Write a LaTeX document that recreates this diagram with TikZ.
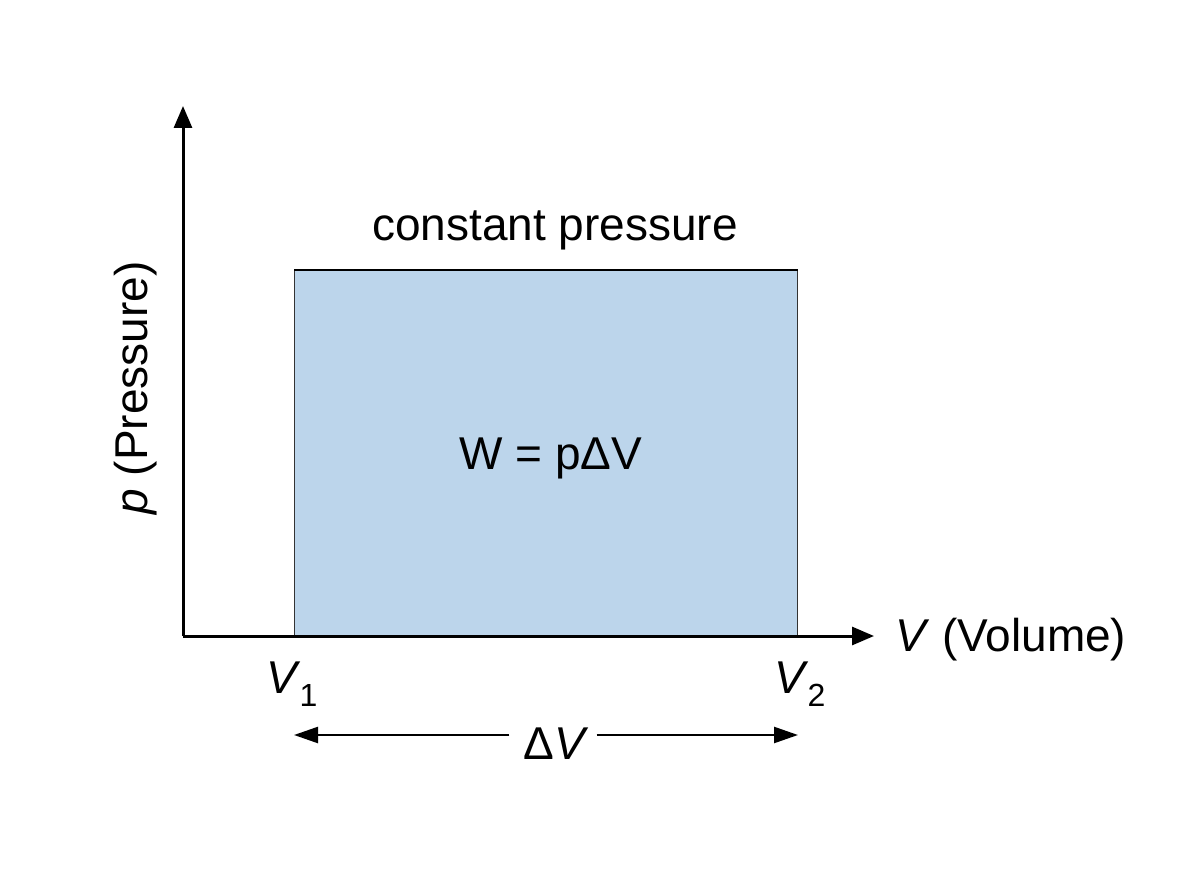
\documentclass[tikz,border=0pt]{standalone}
\usepackage{fontspec}
\setmainfont{Liberation Sans}
\usetikzlibrary{arrows.meta}
\begin{document}
\begin{tikzpicture}[x=1pt,y=-1pt,
  lbl/.style={font=\fontsize{46}{48}\selectfont, inner sep=0pt},
  ax/.style={line width=3pt, -{Triangle[length=22pt,width=18pt]}},
  dim/.style={line width=2.4pt, -{Triangle[length=24pt,width=16pt]}}]
\useasboundingbox (0,0) rectangle (1200,896);
\fill[white] (0,0) rectangle (1200,896);
\coordinate (O) at (183,636);
\coordinate (Ytop) at (183,106);
\coordinate (Xend) at (874,636);
\node[draw=black!80, line width=1.2pt, fill={rgb,255:red,188;green,213;blue,235}, minimum width=503pt, minimum height=366pt, anchor=north west, inner sep=0pt] (area) at (294,270) {};
\draw[line width=2.5pt] (area.north west) -- (area.north east);
\draw[ax] (O) -- (Ytop);
\draw[ax] (O) -- (Xend);
\node[lbl] (cp) at (555,230) {constant pressure};
\node[lbl] (w) at (551,458) {W = pΔV};
\node[lbl, rotate=90] (py) at (136,388) {\textit{p} (Pressure)};
\node[lbl, anchor=west] (vx) at (895,640) {\textit{V} (Volume)};
\node[lbl] (v1) at (292,684) {\textit{V}\kern-1pt\raisebox{-0.28em}{\fontsize{32}{32}\selectfont 1}};
\node[lbl] (v2) at (800,684) {\textit{V}\kern-1pt\raisebox{-0.28em}{\fontsize{32}{32}\selectfont 2}};
\node[lbl] (dv) at (556,744) {Δ\textit{V}};
\coordinate (dl) at (294,735);
\coordinate (dr) at (798,735);
\draw[dim] (dv.west) ++(-14,-9) coordinate (a) -- (dl);
\draw[dim] (dv.east) ++(8,-9) coordinate (b) -- (dr);
\end{tikzpicture}
\end{document}
